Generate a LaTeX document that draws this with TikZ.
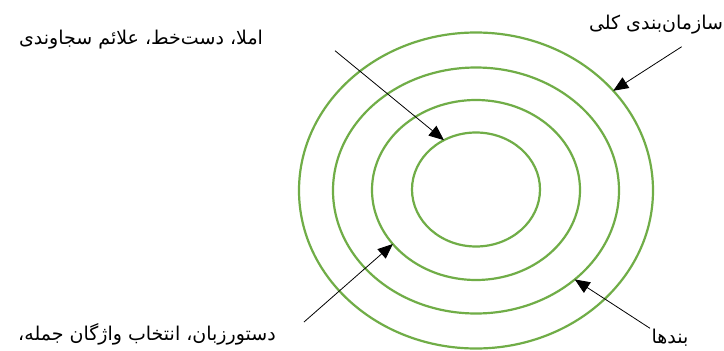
\documentclass[tikz,border=0pt]{standalone}
\usepackage{fontspec}
\newfontfamily\arabicfont[Script=Arabic]{DejaVu Sans}
\TeXXeTstate=1
\usetikzlibrary{shapes.geometric,arrows.meta}
\definecolor{ringgreen}{RGB}{112,173,71}
\begin{document}
\begin{tikzpicture}[x=1pt,y=-1pt,
  ring/.style={draw=ringgreen,line width=2.2pt,ellipse,inner sep=0pt,outer sep=0pt},
  pointer/.style={draw=black,line width=0.8pt,-{Triangle[length=15pt,width=12.5pt]}},
  label/.style={font=\arabicfont\fontsize{19}{21}\selectfont,inner sep=0pt}]
\useasboundingbox (0,0) rectangle (724,351);
\fill[white] (0,0) rectangle (724,351);
\node[ring,minimum width=354pt,minimum height=316pt] (r1) at (476,190.5) {};
\node[ring,minimum width=286pt,minimum height=246pt] (r2) at (476,190.5) {};
\node[ring,minimum width=208pt,minimum height=180pt] (r3) at (476,190) {};
\node[ring,minimum width=128pt,minimum height=114pt] (r4) at (476,189.5) {};
\node[label] (tl) at (141,40) {\beginR املا، دست‌خط، علائم سجاوندی\endR};
\node[label] (tr) at (656,25) {\beginR سازمان‌بندی کلی\endR};
\node[label] (bl) at (147,334) {\beginR دستورزبان، انتخاب واژگان جمله،\endR};
\node[label] (br) at (670,338) {\beginR بندها\endR};
\coordinate (atl) at (335,50.7);
\coordinate (abl) at (304,322);
\coordinate (atr) at (681.7,46.7);
\coordinate (abr) at (650,328.3);
\draw[pointer] (atl) -- (r4.123);
\draw[pointer] (abl) -- (r3.213);
\draw[pointer] (atr) -- (r1.36);
\draw[pointer] (abr) -- (r2.318);
\end{tikzpicture}
\end{document}
